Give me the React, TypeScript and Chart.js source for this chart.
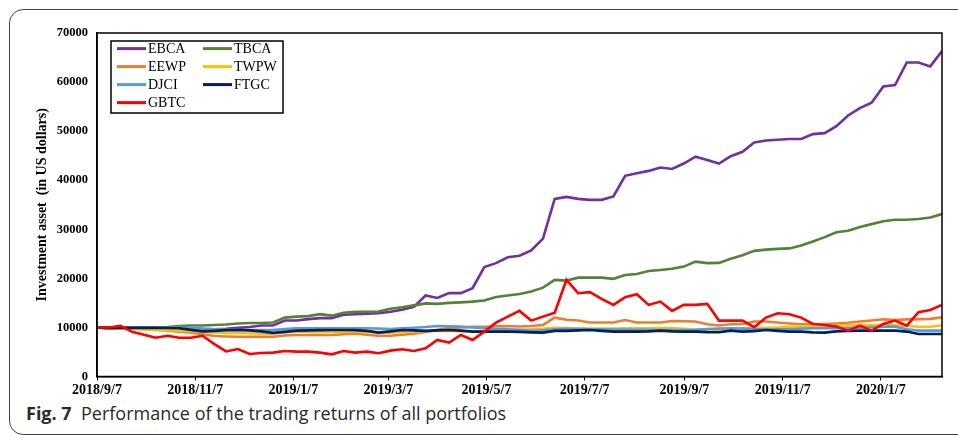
import React, { useEffect, useRef } from "react";
import { Chart, registerables } from "chart.js";

Chart.register(...registerables);

const seriesNames = ["EBCA", "TBCA", "EEWP", "TWPW", "DJCI", "FTGC", "GBTC"];
const seriesColors = ["#7030A0", "#548235", "#ED7D31", "#FFC000", "#5B9BD5", "#002060", "#FF0000"];

const EBCA = [10000, 9800, 9900, 9900, 10000, 10000, 10000, 9900, 9800, 9700,
  9600, 9700, 9900, 10100, 10400, 10400, 11400, 11400, 11700, 11900,
  11900, 12600, 12700, 12800, 12900, 13200, 13600, 14200, 16500, 16000,
  17000, 17000, 18000, 22300, 23100, 24300, 24600, 25700, 28100, 36200,
  36600, 36200, 36000, 36000, 36700, 40900, 41400, 41900, 42600, 42300,
  43400, 44800, 44100, 43400, 44900, 45800, 47700, 48100, 48250, 48400,
  48400, 49400, 49600, 51000, 53200, 54700, 55800, 59100, 59400, 64000,
  64000, 63200, 66300];
const TBCA = [10000, 9800, 9900, 10000, 10000, 10000, 10100, 10300, 10400, 10400,
  10500, 10600, 10800, 10900, 10900, 11000, 12000, 12200, 12300, 12700,
  12400, 13000, 13200, 13200, 13250, 13800, 14100, 14500, 14900, 14800,
  15000, 15100, 15250, 15500, 16200, 16500, 16800, 17300, 18100, 19700,
  19550, 20150, 20150, 20150, 19900, 20700, 20900, 21500, 21700, 21950,
  22400, 23400, 23100, 23150, 24000, 24700, 25600, 25850, 26000, 26100,
  26700, 27500, 28400, 29400, 29700, 30450, 31050, 31650, 31950, 31950,
  32100, 32400, 33100];
const EEWP = [10000, 9900, 9850, 9800, 9700, 9550, 9350, 9150, 8900, 8600,
  8250, 8150, 8100, 8100, 8100, 8100, 8350, 8450, 8450, 8450,
  8450, 8600, 8750, 8500, 8300, 8300, 8500, 8700, 9100, 9500,
  9850, 10000, 10150, 10150, 10250, 10300, 10200, 10300, 10500, 12000,
  11550, 11400, 11000, 11000, 11000, 11500, 11000, 11000, 11000, 11300,
  11250, 11200, 10650, 10400, 10650, 10700, 11200, 11200, 11000, 10800,
  10650, 10650, 10700, 10800, 10950, 11200, 11400, 11650, 11500, 11650,
  11700, 11750, 12050];
const TWPW = [10000, 9900, 9800, 9700, 9600, 9500, 9450, 9350, 9250, 9100,
  9000, 8900, 8850, 8800, 8700, 8700, 9000, 9150, 9150, 9150,
  9150, 9150, 9150, 9100, 9000, 8950, 9100, 9200, 9300, 9300,
  9300, 9250, 9200, 9200, 9300, 9400, 9500, 9600, 9700, 9900,
  9850, 9800, 9750, 9750, 9750, 9800, 9800, 9800, 9850, 9850,
  9700, 9550, 9450, 9500, 9650, 9800, 9850, 9900, 10000, 10150,
  10200, 10250, 10300, 10400, 10500, 10500, 10500, 10500, 10500, 10300,
  10150, 10150, 10450];
const DJCI = [10000, 10000, 10000, 10000, 10000, 10000, 9950, 9950, 9850, 9700,
  9630, 9550, 9490, 9490, 9490, 9490, 9650, 9800, 9830, 9830,
  9830, 9830, 9830, 9830, 9750, 9650, 9830, 9950, 10100, 10300,
  10250, 10160, 10000, 9850, 9700, 9630, 9500, 9300, 9400, 9600,
  9700, 9650, 9630, 9600, 9550, 9550, 9500, 9500, 9490, 9490,
  9490, 9500, 9690, 9750, 9830, 9750, 9650, 9630, 9630, 9630,
  9750, 9830, 9830, 9830, 9900, 9960, 10050, 10160, 10160, 9630,
  9350, 9350, 9350];
const FTGC = [10000, 9900, 9900, 9900, 9900, 9900, 9870, 9830, 9500, 9200,
  9300, 9450, 9490, 9400, 9200, 8900, 9100, 9350, 9400, 9450,
  9490, 9490, 9450, 9300, 8940, 9200, 9490, 9400, 9300, 9400,
  9490, 9350, 9150, 9150, 9150, 9150, 9100, 9000, 8940, 9290,
  9300, 9400, 9490, 9300, 9150, 9150, 9150, 9200, 9350, 9200,
  9150, 9150, 9050, 9020, 9350, 9150, 9250, 9490, 9300, 9150,
  9150, 9000, 8940, 9200, 9290, 9350, 9350, 9350, 9350, 9150,
  8670, 8670, 8670];
const GBTC = [10000, 10000, 10300, 9100, 8500, 7900, 8300, 7900, 7900, 8300,
  6600, 5100, 5600, 4600, 4800, 4860, 5200, 5060, 5060, 4860,
  4520, 5200, 4860, 5060, 4730, 5270, 5540, 5200, 5750, 7450,
  6900, 8470, 7450, 9150, 10980, 12200, 13370, 11390, 12200, 13020,
  19690, 16980, 17180, 15820, 14590, 16160, 16770, 14590, 15270, 13370,
  14590, 14590, 14800, 11390, 11390, 11390, 10040, 12000, 12900, 12690,
  12000, 10710, 10510, 10160, 9350, 10370, 9350, 10710, 11390, 10370,
  13100, 13570, 14590];

const seriesValues = [EBCA, TBCA, EEWP, TWPW, DJCI, FTGC, GBTC];

const firstDate = "2018/9/7";
const lastDate = "2020/2/14";
const tickLabels = ["2018/9/7", "2018/11/7", "2019/1/7", "2019/3/7", "2019/5/7", "2019/7/7", "2019/9/7", "2019/11/7", "2020/1/7"];
const yMax = 70000;
const yStep = 10000;
const yTitle = "Investment asset  (in US dollars)";

function toDate(s: string) {
  const [y, m, d] = s.split("/").map(Number);
  return new Date(y, m - 1, d).getTime();
}

const serif = "'Liberation Serif', 'Times New Roman', serif";

const frameLegendPlugin = {
  id: "frameLegend",
  afterDraw(chart: any) {
    const ctx = chart.ctx;
    const ca = chart.chartArea;
    ctx.save();
    ctx.strokeStyle = "#000";
    ctx.lineWidth = 1.5;
    ctx.strokeRect(ca.left, ca.top, ca.right - ca.left, ca.bottom - ca.top);
    const x0 = ca.left + 14;
    const y0 = ca.top + 8;
    const w = 172;
    const h = 72;
    ctx.fillStyle = "#fff";
    ctx.fillRect(x0, y0, w, h);
    ctx.lineWidth = 1.5;
    ctx.strokeRect(x0, y0, w, h);
    ctx.font = "14px " + serif;
    ctx.textBaseline = "middle";
    ctx.textAlign = "left";
    chart.data.datasets.forEach((ds: any, i: number) => {
      const col = i % 2;
      const row = Math.floor(i / 2);
      const lx = x0 + 6 + col * 86;
      const ly = y0 + 7.6 + row * 18;
      ctx.strokeStyle = ds.borderColor;
      ctx.lineWidth = 3;
      ctx.beginPath();
      ctx.moveTo(lx, ly);
      ctx.lineTo(lx + 29, ly);
      ctx.stroke();
      ctx.fillStyle = "#000";
      ctx.fillText(ds.label, lx + 31, ly + 0.5);
    });
    ctx.restore();
  },
};

function LineChart() {
  const ref = useRef<HTMLCanvasElement | null>(null);
  useEffect(() => {
    if (!ref.current) return;
    const n = EBCA.length;
    const t0 = toDate(firstDate);
    const span = toDate(lastDate) - t0;
    const tickPositions = tickLabels.map((l) => ((toDate(l) - t0) / span) * (n - 1));
    const chart = new Chart(ref.current, {
      type: "line",
      data: {
        datasets: seriesNames.map((name, k) => ({
          label: name,
          data: seriesValues[k].map((v, i) => ({ x: i, y: v })),
          borderColor: seriesColors[k],
          backgroundColor: seriesColors[k],
          borderWidth: 2.6,
          pointRadius: 0,
          tension: 0,
          fill: false,
          order: seriesNames.length - 1 - k,
        })),
      },
      options: {
        responsive: false,
        maintainAspectRatio: false,
        animation: false,
        events: [],
        layout: { padding: { left: 0, top: 33, right: 16, bottom: 0 } },
        plugins: { legend: { display: false }, tooltip: { enabled: false } },
        scales: {
          x: {
            type: "linear",
            min: 0,
            max: n - 1,
            afterBuildTicks: (s: any) => {
              s.ticks = tickPositions.map((v) => ({ value: v }));
            },
            afterFit: (s: any) => {
              s.height = 23.5;
            },
            ticks: {
              autoSkip: false,
              maxRotation: 0,
              minRotation: 0,
              padding: 1,
              color: "#000",
              font: { family: serif, size: 14, weight: "bold" },
              callback: (_v: any, i: number) => tickLabels[i],
            },
            grid: { display: true, drawOnChartArea: false, drawTicks: true, tickLength: 4, color: "#000", lineWidth: 1 },
            border: { display: true, color: "#000", width: 1.5 },
          },
          y: {
            min: 0,
            max: yMax,
            afterFit: (s: any) => {
              s.width = 97;
            },
            ticks: {
              stepSize: yStep,
              padding: 9,
              color: "#000",
              font: { family: serif, size: 12.5, weight: "bold" },
              callback: (v: any) => String(v),
            },
            grid: { display: false, drawTicks: false },
            border: { display: true, color: "#000", width: 1.5 },
            title: {
              display: true,
              text: yTitle,
              color: "#000",
              font: { family: serif, size: 14, weight: "bold" },
              padding: { top: 34, bottom: 0 },
            },
          },
        },
      },
      plugins: [frameLegendPlugin],
    } as any);
    return () => chart.destroy();
  }, []);
  return <canvas ref={ref} width={958} height={400} style={{ position: "absolute", left: 0, top: 0, width: 958, height: 400 }} />;
}

export default function App() {
  return (
    <div style={{ position: "absolute", left: 0, top: 0, width: 958, height: 438, overflow: "hidden", background: "#fff" }}>
      <div
        style={{
          position: "absolute",
          left: 9,
          top: 9,
          width: 980,
          height: 426,
          border: "1px solid #444",
          borderRadius: 14,
          boxSizing: "border-box",
        }}
      />
      <LineChart />
      <div
        style={{
          position: "absolute",
          left: 26,
          top: 401,
          fontFamily: "'Open Sans', sans-serif",
          fontSize: 18,
          color: "#2a2a2a",
          whiteSpace: "nowrap",
          lineHeight: "24px",
        }}
      >
        <b>Fig. 7</b>&nbsp; Performance of the trading returns of all portfolios
      </div>
    </div>
  );
}
